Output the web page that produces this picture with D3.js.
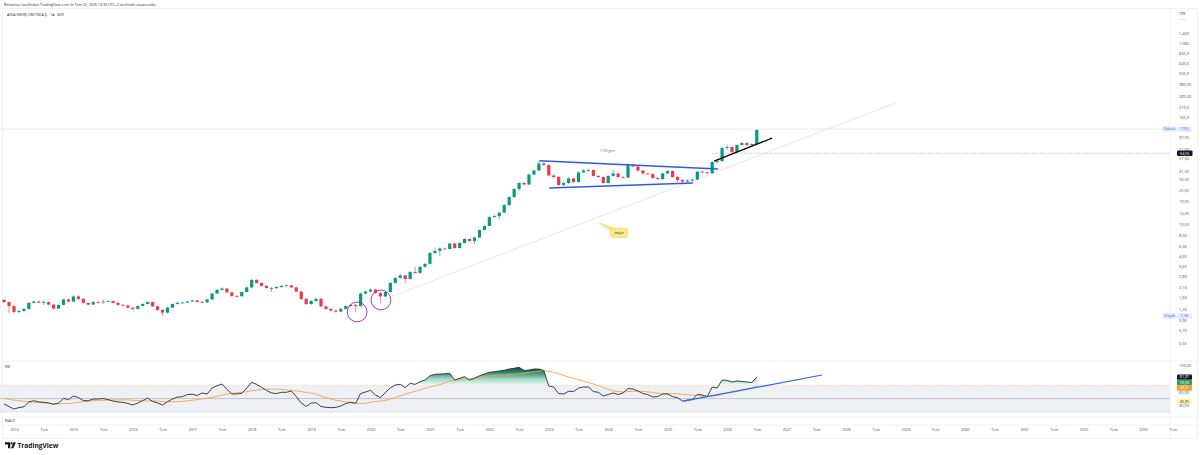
<!DOCTYPE html>
<html><head><meta charset="utf-8">
<script src="https://cdn.jsdelivr.net/npm/d3@7"></script>
<style>
html,body{margin:0;padding:0;background:#fff;}
svg{display:block;font-family:"Open Sans","Noto Sans",sans-serif;}
</style></head><body>
<svg id="c" width="1200" height="455"></svg>
<script>
// ---------- DATA (monthly, AKSEN, TRY) ----------
const firstBar = "2013-11";
const firstOpen = 1.51;
const closes = [1.43,1.29,1.11,1.14,1.20,1.40,1.45,1.41,1.43,1.34,1.21,1.33,1.53,1.45,
 1.65,1.55,1.40,1.34,1.43,1.42,1.45,1.47,1.40,1.33,1.31,1.24,
 1.20,1.29,1.36,1.43,1.28,1.17,1.09,1.24,1.36,1.40,1.41,1.45,
 1.49,1.43,1.42,1.53,1.78,1.95,2.02,1.83,1.67,1.66,1.85,2.08,
 2.52,2.33,2.16,2.05,2.04,2.10,2.16,2.19,2.08,1.87,1.55,1.36,
 1.47,1.55,1.28,1.20,1.15,1.12,1.20,1.29,1.33,1.29,1.78,1.87,
 1.97,1.80,1.65,1.85,2.33,2.65,2.83,2.58,3.09,3.01,3.52,3.80,
 5.02,5.28,5.63,5.56,6.40,5.70,6.48,7.18,6.82,7.45,9.03,10.0,
 12.6,12.9,14.1,17.1,21.0,25.8,30.1,29.0,37.4,41.4,49.6,47.7,
 36.5,35.1,28.6,30.1,33.8,30.9,39.4,41.4,42.0,36.1,35.1,30.1,
 36.1,38.4,35.1,34.6,48.2,45.9,41.4,38.4,37.9,34.2,33.3,38.4,
 40.9,35.1,32.5,31.3,32.1,32.9,40.2,39.6,38.6,51.5,52.8,73.7,
 75.6,66.5,79.6,83.7,79.6,81.6,116.8];
const highs = [1.55,1.45,1.31,1.17,1.23,1.43,1.49,1.48,1.52,1.45,1.36,1.35,1.56,1.56,
 1.69,1.70,1.58,1.42,1.46,1.48,1.53,1.50,1.49,1.42,1.36,1.33,
 1.26,1.31,1.39,1.46,1.45,1.30,1.19,1.27,1.38,1.43,1.45,1.48,
 1.52,1.51,1.46,1.56,1.82,2.00,2.08,2.05,1.86,1.72,1.88,2.12,
 2.58,2.56,2.36,2.20,2.10,2.14,2.20,2.25,2.22,2.11,1.90,1.58,
 1.50,1.59,1.58,1.30,1.22,1.17,1.22,1.31,1.36,1.36,1.82,1.92,
 2.02,2.01,1.85,1.88,2.38,2.70,2.95,2.88,3.15,3.55,3.58,3.88,
 5.12,5.75,5.80,5.78,6.52,6.50,6.60,7.30,7.25,7.60,9.20,10.2,
 12.9,13.3,14.4,17.5,21.5,26.4,30.8,31.0,38.2,42.3,53.0,51.5,
 48.5,37.5,35.8,31.5,34.8,34.5,40.5,43.0,43.5,42.8,37.0,35.6,
 36.8,42.0,39.0,36.2,49.5,49.0,46.5,42.0,39.2,38.5,35.0,39.2,
 41.8,41.5,35.8,33.2,33.0,33.8,41.0,41.2,40.5,52.8,55.0,75.5,
 80.5,77.0,81.0,86.0,85.5,83.5,119.5];
const lows = [1.40,1.08,1.07,1.08,1.12,1.18,1.38,1.39,1.33,1.32,1.18,1.19,1.31,1.42,
 1.43,1.52,1.37,1.31,1.32,1.38,1.36,1.42,1.38,1.31,1.28,1.22,
 1.17,1.18,1.27,1.34,1.26,1.14,1.00,1.07,1.22,1.34,1.38,1.39,
 1.43,1.41,1.40,1.40,1.51,1.75,1.92,1.80,1.63,1.62,1.64,1.82,
 2.05,2.28,2.12,2.01,1.85,2.00,2.06,2.12,2.04,1.83,1.50,1.32,
 1.33,1.44,1.25,1.17,1.12,1.09,1.10,1.18,1.27,1.10,1.27,1.75,
 1.84,1.77,1.38,1.62,1.82,2.30,2.60,2.30,2.55,2.95,2.96,3.47,
 3.75,4.95,4.60,5.45,5.50,5.60,5.62,6.40,6.70,6.25,7.35,8.90,
 9.90,12.3,11.8,13.9,16.8,20.6,24.5,28.2,28.5,36.8,40.8,46.5,
 35.5,34.0,27.8,27.5,29.5,30.2,30.5,38.8,40.2,35.5,34.3,29.5,
 29.6,35.6,34.4,33.8,34.0,45.0,40.6,37.6,37.0,33.5,32.5,32.8,
 37.8,34.5,30.6,30.2,30.8,31.5,32.4,38.8,37.9,38.0,50.0,52.0,
 70.0,65.0,65.8,78.5,78.0,78.5,80.5];
const rsi = [42,38,34.4,36.6,37.8,45,46.8,45,44.5,43.4,41.4,43.4,50.3,48.5,
 53.8,51.6,47,46.8,49.3,49.3,50,48.5,46.3,44.9,44.4,42.6,
 40.4,43.4,47,50.8,45.6,43.4,40.4,45.3,49.3,52.3,52.8,56,
 56.4,54.6,58.3,56.8,65.7,69,71.7,63.8,56.8,56.8,57.8,65.7,
 74.2,71.2,66.8,62,58.3,57.5,59.3,59.3,61.3,53,43.4,38.2,
 43.4,43.8,38.2,37,36.4,37,38.9,42.6,44.4,42.9,57.5,59.8,
 62.3,55.3,51.3,59,66,70.2,71.2,66.2,72.7,71.2,75.1,77.6,
 84,86.1,86.6,87,87.6,77.6,80.2,82.6,77.6,80.2,84,86.6,
 89.1,90,91.1,92.1,94,95.1,96.6,91.8,92.5,94,94,91.8,
 68.7,67.2,57.5,56.8,60.8,60.5,65.7,67.2,67.2,60.5,59.3,53.8,
 56,58.3,56,58.3,65,64.2,61.3,57.5,56,52.3,53,56.8,
 56.8,52.8,51.3,46.3,47.8,48.5,56.4,55.3,53,67.2,65.7,77.6,
 77.2,74.7,76.2,75.4,74.7,74,81.87];
// RSI-based MA for the bars before a full 14-bar window exists
const rsiMaHead = [50,48.9,47.8,46.8,45.9,45.2,44.6,43.9,43.4,42.9,42.4,42.2,42.4];
const rsiMaLength = 14;

// drawings (time in months from Jan 2014, price in TRY)
const majorLine = [{m:75,p:1.55},{m:178,p:233}];
const wedgeTop = [{m:106.1,p:53.2},{m:142.2,p:43.1}];
const wedgeBottom = [{m:108.1,p:26.5},{m:137.1,p:30.1}];
const riseLine = [{m:141.4,p:52.6},{m:153.1,p:95.1}];
const circleMarks = [{m:69.3,p:1.11},{m:74.1,p:1.51}];
const rsiTrend = [{m:135.2,v:46.3},{m:163.2,v:85.1}];
const noteText = {m:119.8,p:66.5,text:"1100 gün"};
const calloutNote = {m:122.2,p:8.37,tipM:118.2,tipP:10.8,text:"major"};
const highValue = 119.5, lowValue = 1.00, lastPrice = 64.55, lastPriceFromM = 141;

// axis ticks
const priceTicks = [1400,1080,840,640,500,380,280,210,160,97,71,57,41,33,25,19,14,10.5,8,6,4.6,3.6,2.8,2.1,1.6,1.2,0.9,0.7,0.5];
const priceTickLabels = ["1.400","1.080","840,0","640,0","500,0","380,00","280,00","210,0","160,0","97,00","71,00","57,00","41,00","33,00","25,00","19,00","14,00","10,50","8,00","6,00","4,60","3,60","2,80","2,10","1,60","1,20","0,90","0,70","0,50"];
const rsiTicks = [100,60,40];
const rsiTickLabels = ["100,00","60,00","40,00"];
const years = d3.range(2014,2034);
const midYearLabel = "Tem";
const rsiExtraBoxes = [{v:76.56,label:"76,56",kind:"green"},{v:45.85,label:"45,85",kind:"yellow"}];

// ---------- CHART ----------
const svg = d3.select("#c");
const AX = 1170;
const x = d3.scaleLinear().domain([0,228]).range([14,1143]);
const yP = d3.scaleLog().domain([0.5,1400]).range([343.1,33.0]);
const yR = d3.scaleLinear().domain([30,100]).range([412,365]);
const fmt = v => v.toFixed(2).replace(".",",");

const [fy,fm] = firstBar.split("-").map(Number);
const off = (fy-2014)*12 + (fm-1);
const bars = closes.map((c,i)=>({m:off+i,o:i?closes[i-1]:firstOpen,c,h:highs[i],l:lows[i]}));
const rsiPts = rsi.map((v,i)=>({m:off+i,v}));
const maPts = rsi.map((v,i)=>({m:off+i,v: i<rsiMaHead.length ? rsiMaHead[i] : d3.mean(rsi.slice(i-rsiMaLength+1,i+1))}));

const defs = svg.append("defs");
defs.append("clipPath").attr("id","mainClip").append("rect").attr("x",0).attr("y",9).attr("width",AX).attr("height",352);
defs.append("clipPath").attr("id","rsiClip").append("rect").attr("x",0).attr("y",361).attr("width",AX).attr("height",56);
defs.append("clipPath").attr("id","obClip").append("rect").attr("x",0).attr("y",361).attr("width",AX).attr("height",yR(70)-361);
const g1 = defs.append("linearGradient").attr("id","obGrad").attr("gradientUnits","userSpaceOnUse")
  .attr("x1",0).attr("x2",0).attr("y1",yR(98)).attr("y2",yR(70));
g1.append("stop").attr("offset",0).attr("stop-color","#0c3b33");
g1.append("stop").attr("offset",0.3).attr("stop-color","#2a826d");
g1.append("stop").attr("offset",0.65).attr("stop-color","#9ed6c4");
g1.append("stop").attr("offset",1).attr("stop-color","#eefaf5");

// frame & separators
svg.append("rect").attr("x",2.5).attr("y",8.5).attr("width",1195).attr("height",430).attr("fill","none").attr("stroke","#e6e8ee").attr("stroke-width",0.6);
[361,417,425].forEach(yy=>svg.append("line").attr("x1",2.5).attr("x2",1197.5).attr("y1",yy).attr("y2",yy).attr("stroke","#e6e8ee").attr("stroke-width",0.6));
svg.append("line").attr("x1",AX).attr("x2",AX).attr("y1",8.5).attr("y2",438.5).attr("stroke","#e6e8ee").attr("stroke-width",0.6);

// header texts
svg.append("text").attr("x",4).attr("y",6.3).attr("font-size",3.6).attr("fill","#2a2e39").text("Renannus tarafından TradingView.com ile Tem 22, 2026 13:30 UTC+3 tarihinde oluşturuldu");
svg.append("text").attr("x",7).attr("y",16).attr("font-size",3.5).attr("fill","#2a2e39").text("AKSA ENERJİ ÜRETİM A.Ş. · 1A · BIST");

// ---------- main pane ----------
const main = svg.append("g").attr("clip-path","url(#mainClip)");
main.append("line").attr("x1",0).attr("x2",AX).attr("y1",yP(highValue)).attr("y2",yP(highValue)).attr("stroke","#d5d9e2").attr("stroke-width",0.6);
main.append("line").attr("x1",x(lastPriceFromM)).attr("x2",AX).attr("y1",yP(lastPrice)).attr("y2",yP(lastPrice)).attr("stroke","#8a8e99").attr("stroke-width",0.6).attr("stroke-dasharray","1.2,1.4");

const lineP = d3.line().x(d=>x(d.m)).y(d=>yP(d.p));
main.append("path").attr("d",lineP(majorLine)).attr("fill","none").attr("stroke","#d9dce3").attr("stroke-width",0.7);

const cg = main.append("g");
const up = "#089981", dn = "#f23645";
cg.selectAll("line.w").data(bars).join("line").attr("class","w")
  .attr("x1",d=>x(d.m)).attr("x2",d=>x(d.m))
  .attr("y1",d=>yP(Math.max(d.h,d.o,d.c))).attr("y2",d=>yP(Math.min(d.l,d.o,d.c)))
  .attr("stroke",d=>d.c>=d.o?up:dn).attr("stroke-width",0.6);
cg.selectAll("rect.b").data(bars).join("rect").attr("class","b")
  .attr("x",d=>x(d.m)-1.6).attr("width",3.2)
  .attr("y",d=>yP(Math.max(d.o,d.c)))
  .attr("height",d=>Math.max(0.8,Math.abs(yP(d.o)-yP(d.c))))
  .attr("fill",d=>d.c>=d.o?up:dn);

main.append("path").attr("d",lineP(wedgeTop)).attr("fill","none").attr("stroke","#2f5bea").attr("stroke-width",1.3);
main.append("path").attr("d",lineP(wedgeBottom)).attr("fill","none").attr("stroke","#2f5bea").attr("stroke-width",1.3);
main.append("path").attr("d",lineP(riseLine)).attr("fill","none").attr("stroke","#000").attr("stroke-width",1.3);
circleMarks.forEach(c=>{
  main.append("circle").attr("cx",x(c.m)).attr("cy",yP(c.p)).attr("r",x(c.m+2)-x(c.m)).attr("fill","none").attr("stroke","#9c27b0").attr("stroke-width",0.9);
});
main.append("text").attr("x",x(noteText.m)).attr("y",yP(noteText.p)).attr("text-anchor","middle").attr("font-size",3.6).attr("fill","#5e5cc9").text(noteText.text);
{
  const bx = x(calloutNote.m), by = yP(calloutNote.p), tx = x(calloutNote.tipM), ty = yP(calloutNote.tipP);
  main.append("path").attr("d",`M${tx},${ty} L${bx-7.5},${by-1.5} L${bx-4},${by-4.5} Z`).attr("fill","#fde98a").attr("stroke","#f0c64a").attr("stroke-width",0.4);
  main.append("rect").attr("x",bx-8.5).attr("y",by-4.5).attr("width",17).attr("height",9).attr("rx",1.5).attr("fill","#fde98a").attr("stroke","#f0c64a").attr("stroke-width",0.4);
  main.append("rect").attr("x",bx-7.6).attr("y",by-4.2).attr("width",4).attr("height",2).attr("fill","#fde98a");
  main.append("text").attr("x",bx).attr("y",by+1.3).attr("text-anchor","middle").attr("font-size",3.6).attr("fill","#2a2e39").text(calloutNote.text);
}

// price axis
const pa = svg.append("g").attr("transform",`translate(1179,0)`)
  .call(d3.axisRight(yP).tickValues(priceTicks).tickFormat((d,i)=>priceTickLabels[i]).tickSize(0).tickPadding(0));
pa.select(".domain").remove();
pa.attr("font-size",3.9).attr("font-family",null);
pa.selectAll("text").attr("fill","#4a4d58");
svg.append("text").attr("x",1179).attr("y",15).attr("font-size",3.9).attr("fill","#4a4d58").text("TRY");
svg.append("line").attr("x1",1179).attr("x2",1186).attr("y1",19.5).attr("y2",19.5).attr("stroke","#c4c7cf").attr("stroke-width",0.5);

function tag(yy, label, bg, fg, x0, w){
  svg.append("rect").attr("x",x0).attr("y",yy-2.7).attr("width",w).attr("height",5.4).attr("rx",0.8).attr("fill",bg);
  svg.append("text").attr("x",x0+w/2).attr("y",yy+1.3).attr("text-anchor","middle").attr("font-size",3.7).attr("fill",fg).text(label);
}
tag(yP(highValue),"Yüksek","#e3edfd","#2962ff",1162.5,14);
tag(yP(highValue),"119,5","#e3edfd","#2962ff",1177,15);
tag(yP(lowValue),"Düşük","#e3edfd","#2962ff",1162.5,14);
tag(yP(lowValue),"1,00","#e3edfd","#2962ff",1177,15);
tag(yP(lastPrice),fmt(lastPrice),"#131722","#ffffff",1177,15.5);

// ---------- RSI pane ----------
const rp = svg.append("g").attr("clip-path","url(#rsiClip)");
rp.append("rect").attr("x",0).attr("width",AX).attr("y",yR(70)).attr("height",yR(30)-yR(70)).attr("fill","#eff0f3");
rp.append("line").attr("x1",0).attr("x2",AX).attr("y1",yR(70)).attr("y2",yR(70)).attr("stroke","#f3bf94").attr("stroke-width",0.6).attr("stroke-dasharray","1.2,1.2");
rp.append("line").attr("x1",0).attr("x2",AX).attr("y1",yR(50)).attr("y2",yR(50)).attr("stroke","#b8bbc4").attr("stroke-width",0.8);
rp.append("line").attr("x1",0).attr("x2",AX).attr("y1",yR(30)).attr("y2",yR(30)).attr("stroke","#9fb4cc").attr("stroke-width",0.6).attr("stroke-dasharray","1.2,1.2");
const ob = d3.area().x(d=>x(d.m)).y0(yR(70)).y1(d=>yR(d.v));
rp.append("path").attr("d",ob(rsiPts)).attr("fill","url(#obGrad)").attr("clip-path","url(#obClip)");
const lineR = d3.line().x(d=>x(d.m)).y(d=>yR(d.v));
rp.append("path").attr("d",lineR(maPts)).attr("fill","none").attr("stroke","#f2a54a").attr("stroke-width",0.9);
rp.append("path").attr("d",lineR(rsiPts)).attr("fill","none").attr("stroke","#2a2e39").attr("stroke-width",0.9);
rp.append("path").attr("d",lineR(rsiTrend)).attr("fill","none").attr("stroke","#3166e6").attr("stroke-width",1.2);

svg.append("text").attr("x",5).attr("y",367.5).attr("font-size",3.5).attr("fill","#2a2e39").text("RSI");
svg.append("text").attr("x",5).attr("y",421.5).attr("font-size",3.5).attr("fill","#2a2e39").text("MACD");

const ra = svg.append("g").attr("transform",`translate(1179,0)`)
  .call(d3.axisRight(yR).tickValues(rsiTicks).tickFormat((d,i)=>rsiTickLabels[i]).tickSize(0).tickPadding(0));
ra.select(".domain").remove();
ra.attr("font-size",3.9).attr("font-family",null);
ra.selectAll("text").attr("fill","#4a4d58");

// value boxes (pushed apart so they do not overlap)
const lastRsi = rsiPts[rsiPts.length-1].v, lastMa = maPts[maPts.length-1].v;
const boxes = [
  {v:lastRsi,label:fmt(lastRsi),bg:"#131722",fg:"#fff"},
  {v:rsiExtraBoxes[0].v,label:rsiExtraBoxes[0].label,bg:"#3f9b5b",fg:"#fff"},
  {v:lastMa,label:fmt(lastMa),bg:"#f29f2f",fg:"#fff"},
  {v:rsiExtraBoxes[1].v,label:rsiExtraBoxes[1].label,bg:"#fff4a8",fg:"#2a2e39"}
].sort((a,b)=>b.v-a.v);
let prev = -Infinity;
boxes.forEach(b=>{ let yy = Math.max(yR(b.v), prev+5.4); prev = yy; tag(yy,b.label,b.bg,b.fg,1177,15); });

// ---------- time axis ----------
const tickM = [], tickL = [];
years.forEach((yv,i)=>{ tickM.push(i*12); tickL.push(String(yv)); tickM.push(i*12+6); tickL.push(midYearLabel); });
const ta = svg.append("g").attr("transform","translate(0,428.6)")
  .call(d3.axisBottom(x).tickValues(tickM).tickFormat((d,i)=>tickL[i]).tickSize(0).tickPadding(0));
ta.select(".domain").remove();
ta.attr("font-size",3.7).attr("font-family",null);
ta.selectAll("text").attr("fill","#4a4d58");

// ---------- TradingView logo ----------
const lg = svg.append("g").attr("fill","#131722");
lg.append("path").attr("d","M5,442.2 h5.2 v6 h-2.2 v-3.8 h-3 z");
lg.append("circle").attr("cx",11.6).attr("cy",443.4).attr("r",1.1);
lg.append("path").attr("d","M11,448.2 l2.6,-6 h2.3 l-2.6,6 z");
svg.append("text").attr("x",17.5).attr("y",448.2).attr("font-size",6.6).attr("font-weight","bold").attr("fill","#131722").text("TradingView");
</script>
</body></html>
